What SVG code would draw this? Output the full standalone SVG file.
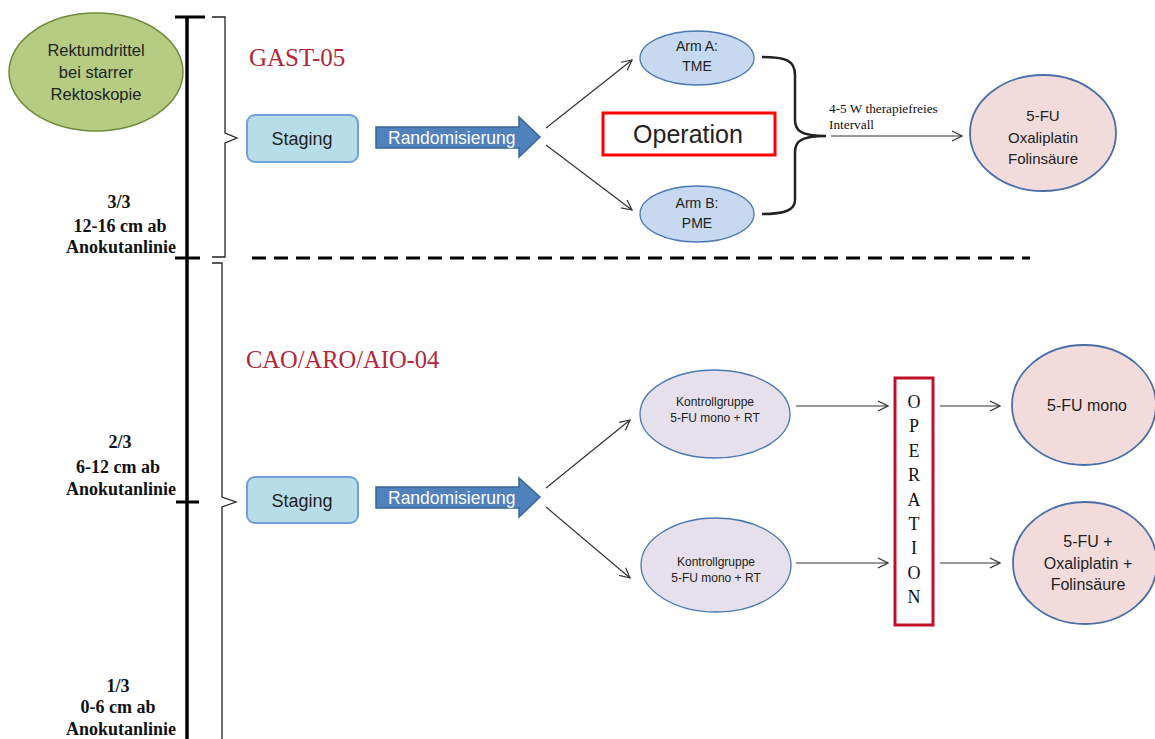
<svg xmlns="http://www.w3.org/2000/svg" width="1155" height="739" viewBox="0 0 1155 739">
<defs>
<marker id="open" viewBox="0 0 12 12" refX="11" refY="6" markerWidth="12" markerHeight="12" markerUnits="userSpaceOnUse" orient="auto">
<path d="M1,1 L11,6 L1,11" fill="none" stroke="#333" stroke-width="1.2"/>
</marker>
</defs>
<style>
.sans{font-family:"Liberation Sans","Open Sans",Arial,sans-serif;fill:#222}
.serif{font-family:"Liberation Serif","Times New Roman",serif;fill:#111}
.lbl{font-family:"Liberation Serif","Times New Roman",serif;font-size:18px;font-weight:bold;fill:#111;text-anchor:middle}
.title{font-family:"Liberation Serif","Times New Roman",serif;fill:#B3263A}
.conn{stroke:#333;stroke-width:1.2;fill:none;marker-end:url(#open)}
.stage{fill:#B7DEE8;stroke:#6FA0DC;stroke-width:2}
.rand{fill:#4F81BD;stroke:#3A6598;stroke-width:1.5}
.arm{fill:#C6D9F1;stroke:#4A78B0;stroke-width:1.3}
.kg{fill:#E6E0EC;stroke:#4A78B0;stroke-width:1.3}
.pink{fill:#F2DCDB;stroke:#4A6EA8;stroke-width:1.8}
.c{text-anchor:middle}
</style>
<rect width="1155" height="739" fill="#fff"/>

<g id="scale">
<line x1="187" y1="17" x2="187" y2="739" stroke="#000" stroke-width="3.5"/>
<line x1="175" y1="17" x2="205" y2="17" stroke="#000" stroke-width="3"/>
<line x1="175" y1="258" x2="200" y2="258" stroke="#000" stroke-width="3"/>
<line x1="176" y1="502" x2="199" y2="502" stroke="#000" stroke-width="3"/>
<text class="lbl" x="119" y="208">3/3</text>
<text class="lbl" x="120" y="232">12-16 cm ab</text>
<text class="lbl" x="121" y="253">Anokutanlinie</text>
<text class="lbl" x="120" y="448">2/3</text>
<text class="lbl" x="118" y="473">6-12 cm ab</text>
<text class="lbl" x="121" y="495">Anokutanlinie</text>
<text class="lbl" x="118" y="692">1/3</text>
<text class="lbl" x="118" y="713">0-6 cm ab</text>
<text class="lbl" x="121" y="735">Anokutanlinie</text>
</g>

<g id="rektum">
<ellipse cx="96" cy="72" rx="87" ry="59" fill="#B5CC82" stroke="#6E8A3A" stroke-width="1.5"/>
<text class="sans c" font-size="16.5" x="96" y="56">Rektumdrittel</text>
<text class="sans c" font-size="16.5" x="96" y="78">bei starrer</text>
<text class="sans c" font-size="16.5" x="96" y="100">Rektoskopie</text>
</g>

<g id="braces" fill="none" stroke="#222" stroke-width="1.3">
<path d="M212,17 L225,17 L225,133 L237,138 L225,143 L225,257 L212,257"/>
<path d="M212,263 L222,263 L222,497 L236,502 L222,507 L222,739"/>
</g>

<g id="divider">
<line x1="252" y1="258" x2="1030" y2="258" stroke="#000" stroke-width="3" stroke-dasharray="14,8"/>
</g>

<g id="gast-title"><text class="title" font-size="25" x="249" y="66">GAST-05</text></g>

<g id="staging1">
<rect class="stage" x="247" y="115" width="111" height="47" rx="8"/>
<text class="sans c" font-size="18" x="302" y="145">Staging</text>
</g>

<g id="rand1">
<path class="rand" d="M376,127 L519,127 L519,117 L540,137 L519,157 L519,148 L376,148 Z"/>
<text class="sans" font-size="17.5" style="fill:#fff" x="388" y="144">Randomisierung</text>
</g>

<g id="armA">
<ellipse class="arm" cx="697" cy="58" rx="57" ry="27"/>
<text class="sans c" font-size="14" x="697" y="51">Arm A:</text>
<text class="sans c" font-size="14" x="697" y="71">TME</text>
</g>

<g id="armB">
<ellipse class="arm" cx="697" cy="214" rx="57" ry="28"/>
<text class="sans c" font-size="14" x="697" y="208">Arm B:</text>
<text class="sans c" font-size="14" x="697" y="228">PME</text>
</g>

<g id="operation1">
<rect x="603" y="113" width="172" height="42" fill="#fff" stroke="#FF0000" stroke-width="3"/>
<text class="sans c" font-size="25" x="688" y="143">Operation</text>
</g>

<g id="bigbrace">
<path d="M762,57 C785,57 795,60 795,75 L795,120 C795,130 800,136 826,136 C800,136 795,142 795,152 L795,200 C795,210 785,214 762,214" fill="none" stroke="#222" stroke-width="2.5"/>
</g>

<g id="chemo1">
<ellipse class="pink" cx="1043" cy="133" rx="73" ry="58"/>
<text class="sans c" font-size="15" x="1043" y="121">5-FU</text>
<text class="sans c" font-size="15" x="1043" y="143">Oxaliplatin</text>
<text class="sans c" font-size="15" x="1043" y="164">Folinsäure</text>
</g>

<g id="interval-label">
<text class="serif" font-size="13.3" x="829" y="113">4-5 W therapiefreies</text>
<text class="serif" font-size="13.3" x="829" y="129">Intervall</text>
</g>

<g id="cao-title"><text class="title" font-size="24.5" x="246" y="368">CAO/ARO/AIO-04</text></g>

<g id="staging2">
<rect class="stage" x="247" y="477" width="111" height="46" rx="8"/>
<text class="sans c" font-size="18" x="302" y="507">Staging</text>
</g>

<g id="rand2">
<path class="rand" d="M376,487 L519,487 L519,478 L540,497 L519,517 L519,508 L376,508 Z"/>
<text class="sans" font-size="17.5" style="fill:#fff" x="388" y="504">Randomisierung</text>
</g>

<g id="kg1">
<ellipse class="kg" cx="715" cy="414" rx="75" ry="44"/>
<text class="sans c" font-size="12" x="715" y="406">Kontrollgruppe</text>
<text class="sans c" font-size="12" x="715" y="422">5-FU mono + RT</text>
</g>

<g id="kg2">
<ellipse class="kg" cx="716" cy="565" rx="75" ry="47"/>
<text class="sans c" font-size="12" x="716" y="566">Kontrollgruppe</text>
<text class="sans c" font-size="12" x="716" y="582">5-FU mono + RT</text>
</g>

<g id="operation2">
<rect x="895" y="378" width="38" height="247" fill="#fff" stroke="#C0102A" stroke-width="3"/>
<g class="serif c" font-size="18">
<text x="914" y="408">O</text>
<text x="914" y="432">P</text>
<text x="914" y="457">E</text>
<text x="914" y="481">R</text>
<text x="914" y="506">A</text>
<text x="914" y="530">T</text>
<text x="914" y="554">I</text>
<text x="914" y="579">O</text>
<text x="914" y="603">N</text>
</g>
</g>

<g id="mono">
<ellipse class="pink" cx="1084" cy="405" rx="72" ry="60"/>
<text class="sans c" font-size="16" x="1087" y="411">5-FU mono</text>
</g>

<g id="combo">
<ellipse class="pink" cx="1085" cy="563" rx="72" ry="61"/>
<text class="sans c" font-size="16" x="1088" y="547">5-FU +</text>
<text class="sans c" font-size="16" x="1088" y="569">Oxaliplatin +</text>
<text class="sans c" font-size="16" x="1088" y="590">Folinsäure</text>
</g>

<g id="connectors">
<line class="conn" x1="546" y1="128" x2="632" y2="60"/>
<line class="conn" x1="546" y1="145" x2="632" y2="210"/>
<line class="conn" x1="831" y1="136" x2="962" y2="136"/>
<line class="conn" x1="546" y1="488" x2="630" y2="420"/>
<line class="conn" x1="546" y1="507" x2="630" y2="578"/>
<line class="conn" x1="796" y1="406" x2="888" y2="406"/>
<line class="conn" x1="796" y1="563" x2="888" y2="563"/>
<line class="conn" x1="940" y1="406" x2="1000" y2="406"/>
<line class="conn" x1="940" y1="563" x2="1000" y2="563"/>
</g>
</svg>
